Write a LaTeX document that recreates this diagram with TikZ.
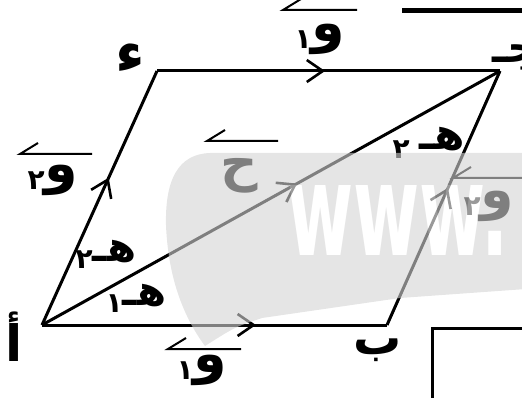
\documentclass[tikz,border=0pt]{standalone}
\usepackage{fontspec}
\usetikzlibrary{arrows.meta,decorations.markings,calc}
\TeXXeTstate=1
\newfontfamily\arfont[Script=Arabic]{DejaVu Sans}
\newfontfamily\wmfont{DejaVu Sans}
\newcommand{\arb}[1]{\fontsize{#1}{#1}\arfont\bfseries\selectfont}
\begin{document}
\begin{tikzpicture}[x=1pt,y=-1pt,
  edge/.style={line width=3pt, line join=round},
  midarrow/.style={postaction={decorate,decoration={markings,mark=at position #1 with {\arrow[line width=2.6pt]{Straight Barb[length=16pt,width=22pt]}}}}},
  overarr/.style={line width=2pt, line join=miter},
  lab/.style={inner sep=0pt, font=\arb{54}},
]
\useasboundingbox (0,0) rectangle (522,398);
\clip (0,0) rectangle (522,398);
% vertices
\coordinate (A) at (42,325);
\coordinate (B) at (387,325);
\coordinate (C) at (500,71);
\coordinate (D) at (157,71);
% sides and diagonal
\draw[edge, midarrow=0.62] (A) -- (B);
\draw[edge, midarrow=0.54] (B) -- (C);
\draw[edge, midarrow=0.49] (D) -- (C);
\draw[edge, midarrow=0.58] (A) -- (D);
\draw[edge, midarrow=0.557] (A) -- (C);
% vertex labels
\node[lab, font=\arb{50}] (lA) at (14,337) {\beginR أ\endR};
\node[lab, font=\arb{48}] (lB) at (378,350) {\beginR ب\endR};
\node[lab, font=\arb{44}] (lC) at (516,57) {\beginR جـ\endR};
\node[lab, font=\arb{58}] (lD) at (130,58) {\beginR ء\endR};
% vector labels
\node[lab] (v1t) at (320,39) {\beginR و\raisebox{-7pt}{\arb{28}١}\endR};
\draw[overarr] ($(v1t)+(37,-29)$) -- ($(v1t)+(-37,-29)$) -- ++(18,-11);
\node[lab] (v1b) at (202,370) {\beginR و\raisebox{-7pt}{\arb{28}١}\endR};
\draw[overarr] ($(v1b)+(39,-21)$) -- ($(v1b)+(-34,-21)$) -- ++(18,-11);
\node[lab] (v2l) at (53,180) {\beginR و\raisebox{-7pt}{\arb{28}٢}\endR};
\draw[overarr] ($(v2l)+(39,-26)$) -- ($(v2l)+(-33,-26)$) -- ++(18,-11);
\node[lab, font=\arb{52}] (vr) at (239,176) {\beginR ح\endR};
\draw[overarr] ($(vr)+(39,-35)$) -- ($(vr)+(-32,-35)$) -- ++(18,-11);
\node[lab] (v2r) at (489,206) {\beginR و\raisebox{-7pt}{\arb{28}٢}\endR};
\draw[overarr] ($(v2r)+(38,-28)$) -- ($(v2r)+(-36,-28)$) -- ++(18,-11);
% angle labels
\node[lab, font=\arb{44}] (h2c) at (429,143) {\beginR هـ\hspace{10pt}\raisebox{-9pt}{\arb{28}٢}\endR};
\node[lab, font=\arb{42}] (h2a) at (106,254) {\beginR هـ\raisebox{-7pt}{\arb{28}٢}\endR};
\node[lab, font=\arb{42}] (h1a) at (136,298) {\beginR هـ\raisebox{-7pt}{\arb{28}١}\endR};
% cropped frame pieces
\draw[line width=5pt] (402,10.5) -- (526,10.5);
\draw[line width=3pt] (432,402) -- (432,328) -- (526,328);
% watermark
\begin{scope}[transparency group, opacity=0.6]
\fill[black!17] (210,153) -- (526,153) -- (526,289) -- (400,298) -- (262,318)
  .. controls (235,327) .. (205,346)
  .. controls (182,315) and (168,275) .. (166,225)
  .. controls (165,180) and (178,154) .. (210,153) -- cycle;
\node[white, inner sep=0pt, anchor=base west, xscale=0.56, font=\wmfont\bfseries\fontsize{128}{128}\selectfont] (wm) at (287,255) {www.};
\end{scope}
\end{tikzpicture}
\end{document}
